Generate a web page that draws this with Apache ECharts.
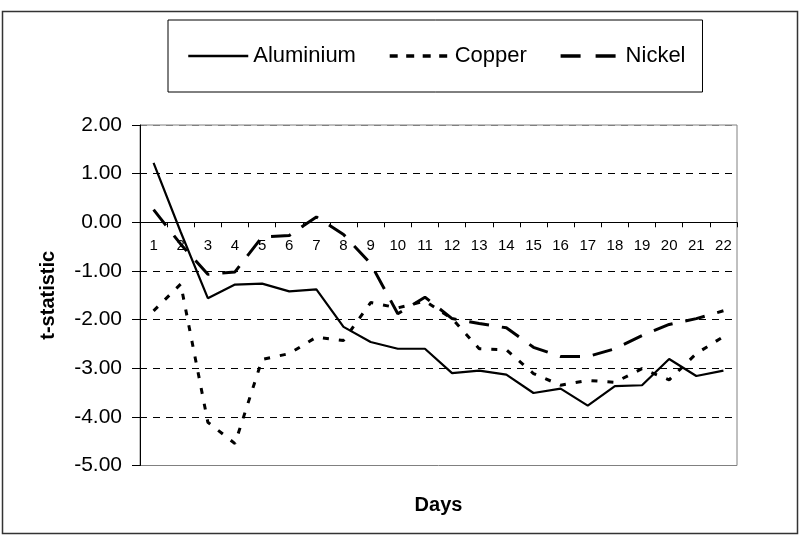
<!DOCTYPE html>
<html>
<head>
<meta charset="utf-8">
<script src="https://cdn.jsdelivr.net/npm/echarts@6/dist/echarts.min.js"></script>
<style>
html,body{margin:0;padding:0;background:#fff;}
#chart{width:800px;height:536px;}
</style>
</head>
<body>
<div id="chart"></div>
<script>
const days = ['1','2','3','4','5','6','7','8','9','10','11','12','13','14','15','16','17','18','19','20','21','22'];
const aluminium = [1.22, -0.20, -1.56, -1.28, -1.26, -1.42, -1.38, -2.15, -2.46, -2.60, -2.60, -3.10, -3.05, -3.13, -3.51, -3.42, -3.77, -3.37, -3.35, -2.81, -3.16, -3.05];
const copper = [-1.82, -1.27, -4.11, -4.55, -2.82, -2.70, -2.36, -2.43, -1.65, -1.76, -1.62, -1.98, -2.60, -2.62, -3.11, -3.35, -3.25, -3.29, -3.01, -3.24, -2.70, -2.35];
const nickel = [0.26, -0.45, -1.07, -1.02, -0.30, -0.27, 0.11, -0.25, -0.85, -1.88, -1.54, -1.98, -2.08, -2.17, -2.57, -2.76, -2.76, -2.60, -2.33, -2.10, -1.98, -1.82];
const yMin = -5, yMax = 2;

const FONT = "'Liberation Sans', Arial, sans-serif";
const W = 800, H = 536;
const gridTop = 125, gridBottom = 70.5;
const plotH = H - gridTop - gridBottom;
const zeroOffset = -(plotH * (0 - yMin) / (yMax - yMin));

const chart = echarts.init(document.getElementById('chart'), null, {renderer: 'canvas'});
chart.setOption({
  animation: false,
  backgroundColor: '#fff',
  textStyle: {fontFamily: FONT, color: '#000'},
  grid: {left: 140, right: 63, top: gridTop, bottom: gridBottom, show: true, borderColor: '#808080', borderWidth: 1},
  graphic: [
    {type: 'rect', shape: {x: 2.5, y: 11.5, width: 795, height: 522}, style: {fill: null, stroke: '#333', lineWidth: 1.5}, silent: true, z: -1},
    {type: 'text', x: 438.5, y: 505, style: {text: 'Days', font: "bold 20px 'Liberation Sans', Arial, sans-serif", fill: '#000', align: 'center', verticalAlign: 'middle'}}
  ],
  legend: {
    left: 168, top: 20,
    padding: [25, 17, 25, 19],
    borderColor: '#000', borderWidth: 1,
    itemGap: 32, itemWidth: 60, itemHeight: 14,
    itemStyle: {opacity: 0},
    textStyle: {fontSize: 22, color: '#000', fontFamily: FONT},
    data: [
      {name: 'Aluminium', lineStyle: {width: 2.5, type: 'solid'}},
      {name: 'Copper', lineStyle: {width: 3.5, type: [8, 8.5]}},
      {name: 'Nickel', lineStyle: {width: 3.5, type: [20, 15]}}
    ]
  },
  xAxis: {
    type: 'category', data: days, boundaryGap: true,
    offset: zeroOffset,
    axisLine: {onZero: false, lineStyle: {color: '#000', width: 1}},
    axisTick: {show: true, length: 5, lineStyle: {color: '#000'}},
    axisLabel: {fontSize: 15, color: '#000', margin: 16, fontFamily: FONT},
    splitLine: {show: false}
  },
  yAxis: {
    type: 'value', min: yMin, max: yMax, interval: 1,
    name: 't-statistic', nameLocation: 'middle', nameGap: 82,
    nameTextStyle: {fontSize: 20, fontWeight: 'bold', color: '#000'},
    axisLine: {show: true, lineStyle: {color: '#000', width: 1}},
    axisTick: {show: true, length: 8, lineStyle: {color: '#000'}},
    axisLabel: {fontSize: 21, color: '#000', margin: 18, fontFamily: FONT,
      formatter: v => v.toFixed(2)},
    splitLine: {show: true, lineStyle: {color: ['#808080','#000','#000','#000','#000','#000','#000','#808080'], type: [7, 6], width: 1}}
  },
  series: [
    {name: 'Aluminium', type: 'line', data: aluminium, symbol: 'none',
     lineStyle: {color: '#000', width: 2.2, type: 'solid'}, itemStyle: {color: '#000'}},
    {name: 'Copper', type: 'line', data: copper, symbol: 'none',
     lineStyle: {color: '#000', width: 3, type: [6, 10]}, itemStyle: {color: '#000'}},
    {name: 'Nickel', type: 'line', data: nickel, symbol: 'none',
     lineStyle: {color: '#000', width: 3, type: [20, 13]}, itemStyle: {color: '#000'}}
  ]
});
</script>
</body>
</html>
